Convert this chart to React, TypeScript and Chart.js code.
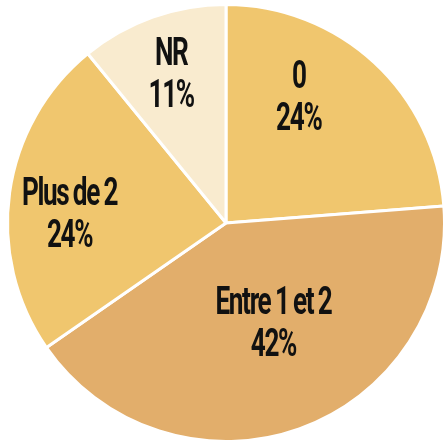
import React, { useEffect, useRef } from "react";
import { Chart, registerables } from "chart.js";

Chart.register(...registerables);

const categories = ["0", "Entre 1 et 2", "Plus de 2", "NR"];
const values = [24, 42, 24, 11];
const percentLabels = ["24%", "42%", "24%", "11%"];
const colors = ["#F0C66E", "#E2AE6B", "#F0C66E", "#F9EBCF"];
// label anchor: angle (deg clockwise from top) and fraction of radius
const labelAngles = [30.3, 154.8, 272.9, 339.6];
const labelRadii = [0.66, 0.51, 0.717, 0.72];

const labelPlugin = {
  id: "sliceLabels",
  afterDatasetsDraw(chart: any) {
    const ctx = chart.ctx as any;
    const meta = chart.getDatasetMeta(0);
    const arc = meta.data[0];
    if (!arc) return;
    const cx = arc.x;
    const cy = arc.y;
    const r = arc.outerRadius;
    ctx.save();
    ctx.fillStyle = "#111111";
    ctx.font = "bold 39px Roboto, 'DejaVu Sans Condensed', sans-serif";
    ctx.letterSpacing = "-2px";
    ctx.wordSpacing = "-1px";
    ctx.textAlign = "center";
    ctx.textBaseline = "middle";
    const sx = 116 / ctx.measureText("Entre 1 et 2").width;
    categories.forEach((cat, i) => {
      const a = (labelAngles[i] * Math.PI) / 180;
      const x = cx + Math.sin(a) * r * labelRadii[i];
      const y = cy - Math.cos(a) * r * labelRadii[i];
      ctx.save();
      ctx.translate(x, y);
      ctx.scale(sx, 1);
      ctx.fillText(cat, 0, -20);
      ctx.fillText(percentLabels[i], 0, 22);
      ctx.restore();
    });
    ctx.restore();
  },
};

export default function App() {
  const ref = useRef<HTMLCanvasElement | null>(null);
  useEffect(() => {
    if (!ref.current) return;
    const chart = new Chart(ref.current, {
      type: "pie",
      data: {
        labels: categories,
        datasets: [
          {
            data: values,
            backgroundColor: colors,
            borderColor: "#ffffff",
            borderWidth: 3,
          },
        ],
      },
      options: {
        responsive: false,
        animation: false,
        layout: { padding: { top: 3, left: 6, right: 8, bottom: 0 } },
        plugins: {
          legend: { display: false },
          tooltip: { enabled: false },
        },
      },
      plugins: [labelPlugin],
    });
    return () => chart.destroy();
  }, []);
  return (
    <div
      style={{
        position: "fixed",
        left: 0,
        top: 0,
        width: 443,
        height: 443,
        overflow: "hidden",
        background: "#ffffff",
      }}
    >
      <canvas ref={ref} width={454} height={443} style={{ width: 454, height: 443, display: "block" }} />
    </div>
  );
}
